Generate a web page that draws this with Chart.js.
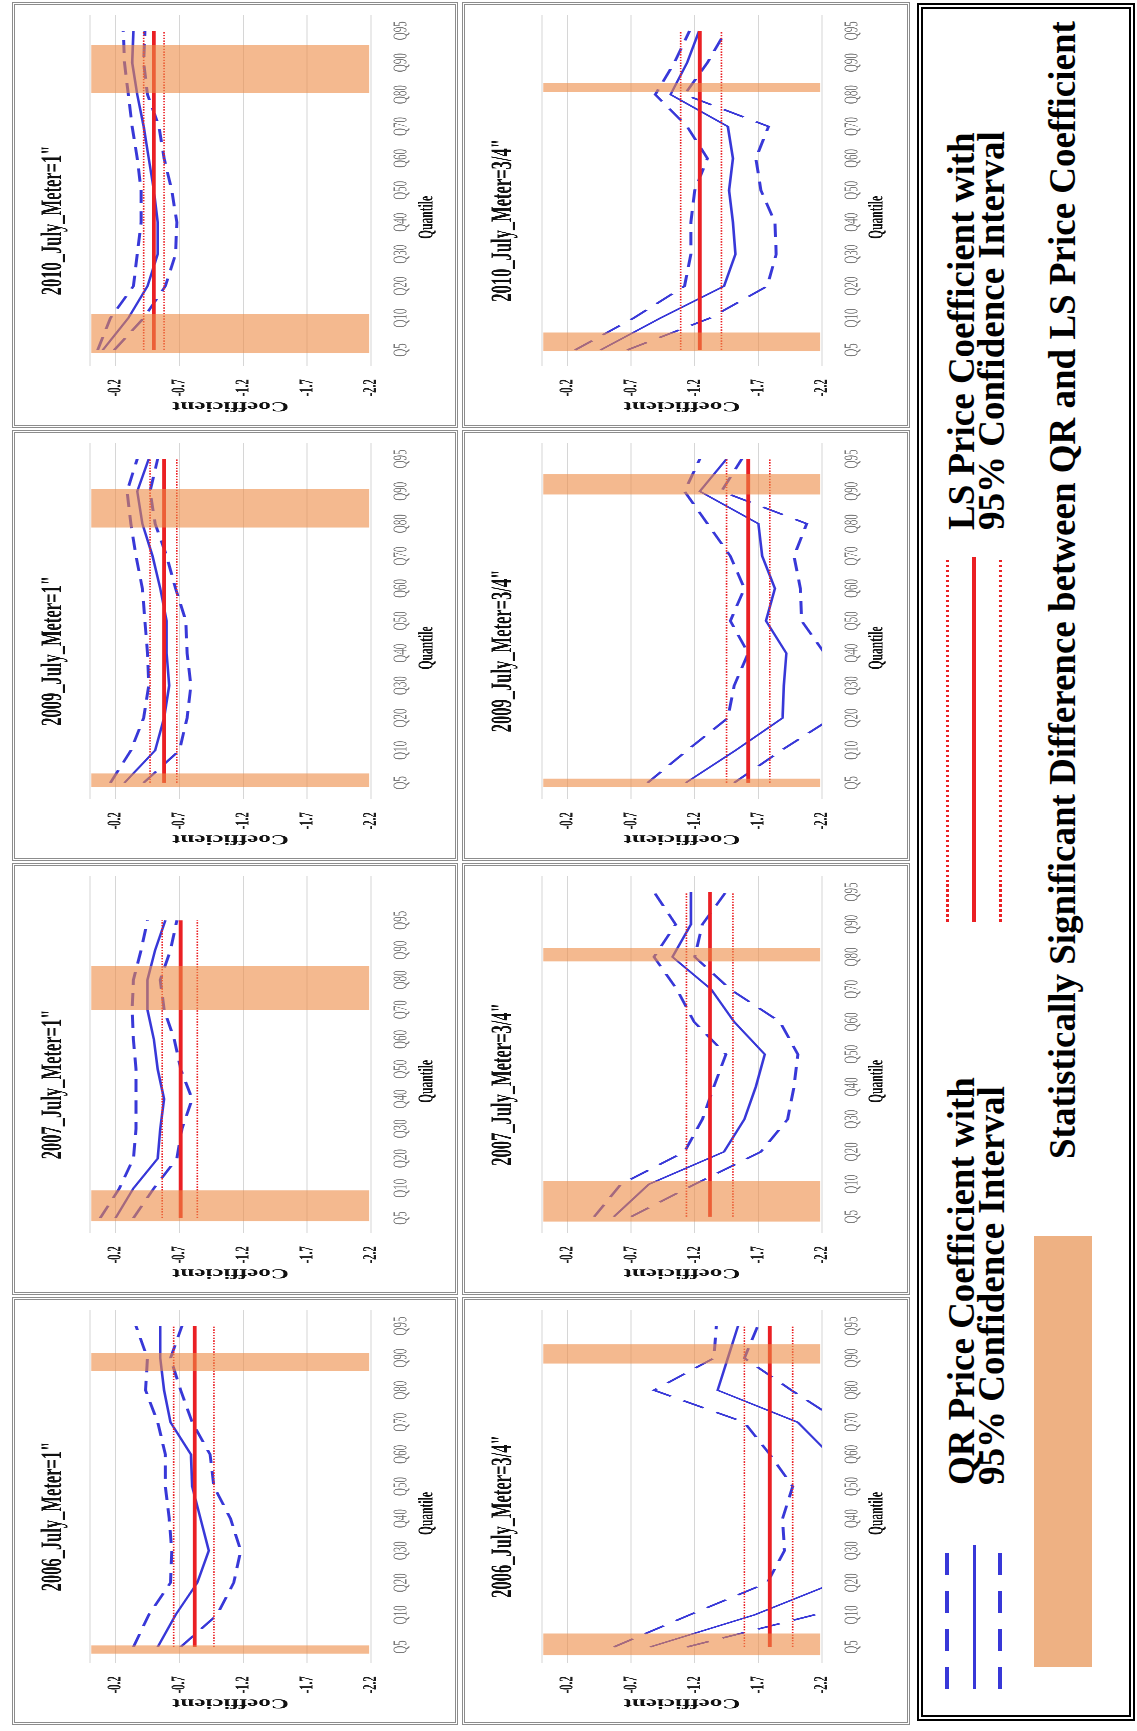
<!DOCTYPE html>
<html>
<head>
<meta charset="utf-8">
<title>QR vs LS price coefficients, July 2006-2010</title>
<script src="https://cdn.jsdelivr.net/npm/chart.js@4.4.1/dist/chart.umd.min.js"></script>
<style>
  html, body { margin: 0; padding: 0; background: #fff; }
  body { width: 1137px; height: 1731px; position: relative; overflow: hidden; }
  /* the figure is built landscape and turned a quarter turn, like the source page */
  #fig { position: absolute; left: 0; top: 0; width: 1731px; height: 1137px;
         transform-origin: 0 0; transform: translate(0, 1731px) rotate(-90deg); }
  .panel { position: absolute; box-sizing: border-box; border: 3px double #8c8c8c; background: #fff; }
  .panel .wrap { position: absolute; left: -3px; top: -3px; transform-origin: 0 0; }
  #legendFrame { position: absolute; left: 10px; top: 917px; width: 1718px; height: 218px;
                 box-sizing: border-box; border: 6px double #000; }
  .lg { position: absolute; }
  .lgText { position: absolute; font-family: "Liberation Serif", serif; font-weight: bold;
            font-size: 37px; color: #000; white-space: nowrap; }
</style>
</head>
<body>
<div id="fig">
  <div id="legendFrame"></div>
</div>

<script>
// ---------------------------- Chart data --------------------------------- //
const quantiles = ['Q5', 'Q10', 'Q20', 'Q30', 'Q40', 'Q50', 'Q60', 'Q70', 'Q80', 'Q90', 'Q95'];
const coefTicks = [-2.2, -1.7, -1.2, -0.7, -0.2, 0];
const bandSpan = [-0.01, -2.185];   // shaded bands run across the whole coefficient range

// QR coefficient, upper and lower 95% bounds; LS = [coef, upper, lower]; bands = quantile index ranges
// 2006, meter 1"
const qr2006m1 = [-0.53, -0.67, -0.84, -0.93, -0.865, -0.80, -0.79, -0.63, -0.58, -0.55, -0.55];
const hi2006m1 = [-0.34, -0.46, -0.63, -0.64, -0.62, -0.59, -0.59, -0.53, -0.435, -0.45, -0.36];
const lo2006m1 = [-0.71, -0.995, -1.125, -1.18, -1.10, -0.97, -0.94, -0.80, -0.71, -0.63, -0.72];
const ls2006m1 = [-0.82, -0.655, -0.97];
const bands2006m1 = [[-0.21, 0.05], [8.6, 9.17]];

// 2006, meter 3/4"
const qr2006m34 = [-0.85, -1.67, -2.30, -2.55, -2.60, -2.50, -2.26, -2.01, -1.38, -1.46, -1.54];
const hi2006m34 = [-0.565, -1.16, -1.77, -1.905, -1.89, -1.97, -1.79, -1.59, -0.88, -1.35, -1.37];
const lo2006m34 = [-1.14, -2.14, -2.50, -2.70, -2.70, -2.60, -2.50, -2.35, -1.96, -1.59, -1.695];
const ls2006m34 = [-1.79, -1.59, -1.97];
const bands2006m34 = [[-0.26, 0.42], [8.83, 9.43]];

// 2007, meter 1"
const qr2007m1 = [-0.20, -0.34, -0.53, -0.55, -0.58, -0.53, -0.50, -0.45, -0.45, -0.51, -0.59];
const hi2007m1 = [-0.08, -0.23, -0.34, -0.36, -0.36, -0.36, -0.34, -0.33, -0.34, -0.40, -0.45];
const lo2007m1 = [-0.34, -0.50, -0.68, -0.72, -0.80, -0.71, -0.66, -0.58, -0.55, -0.63, -0.68];
const ls2007m1 = [-0.71, -0.565, -0.84];
const bands2007m1 = [[-0.11, 0.93], [7.0, 8.47]];

// 2007, meter 3/4"
const qr2007m34 = [-0.565, -0.84, -1.43, -1.59, -1.68, -1.75, -1.51, -1.33, -1.025, -1.17, -1.17];
const hi2007m34 = [-0.41, -0.62, -1.12, -1.26, -1.35, -1.445, -1.195, -1.06, -0.88, -1.05, -0.88];
const lo2007m34 = [-0.70, -1.20, -1.72, -1.93, -1.98, -2.01, -1.87, -1.48, -1.20, -1.26, -1.445];
const ls2007m34 = [-1.32, -1.135, -1.50];
const bands2007m34 = [[-0.15, 1.09], [7.86, 8.27]];

// 2009, meter 1"
const qr2009m1 = [-0.27, -0.51, -0.58, -0.62, -0.60, -0.60, -0.55, -0.49, -0.41, -0.37, -0.46];
const hi2009m1 = [-0.16, -0.32, -0.42, -0.46, -0.45, -0.43, -0.41, -0.36, -0.32, -0.29, -0.37];
const lo2009m1 = [-0.42, -0.70, -0.76, -0.79, -0.76, -0.75, -0.67, -0.60, -0.51, -0.47, -0.53];
const ls2009m1 = [-0.58, -0.47, -0.68];
const bands2009m1 = [[-0.14, 0.29], [7.88, 9.08]];

// 2009, meter 3/4"
const qr2009m34 = [-1.13, -1.52, -1.89, -1.90, -1.92, -1.76, -1.83, -1.73, -1.70, -1.24, -1.45];
const hi2009m34 = [-0.83, -1.14, -1.46, -1.51, -1.62, -1.48, -1.59, -1.48, -1.30, -1.12, -1.24];
const lo2009m34 = [-1.51, -1.88, -2.28, -2.38, -2.22, -2.04, -2.03, -1.98, -2.08, -1.41, -1.57];
const ls2009m34 = [-1.62, -1.45, -1.79];
const bands2009m34 = [[-0.14, 0.13], [8.9, 9.53]];

// 2010, meter 1"
const qr2010m1 = [-0.10, -0.30, -0.45, -0.53, -0.53, -0.50, -0.46, -0.42, -0.37, -0.33, -0.34];
const hi2010m1 = [-0.06, -0.16, -0.34, -0.37, -0.40, -0.40, -0.37, -0.33, -0.30, -0.27, -0.26];
const lo2010m1 = [-0.19, -0.42, -0.59, -0.67, -0.68, -0.64, -0.58, -0.54, -0.45, -0.42, -0.43];
const ls2010m1 = [-0.50, -0.42, -0.58];
const bands2010m1 = [[-0.10, 1.12], [8.05, 9.55]];

// 2010, meter 3/4"
const qr2010m34 = [-0.46, -0.93, -1.43, -1.52, -1.50, -1.47, -1.50, -1.46, -1.01, -1.14, -1.235];
const hi2010m34 = [-0.26, -0.72, -1.12, -1.17, -1.17, -1.20, -1.30, -1.14, -0.89, -1.04, -1.16];
const lo2010m34 = [-0.67, -1.32, -1.77, -1.84, -1.83, -1.72, -1.68, -1.78, -1.12, -1.30, -1.445];
const ls2010m34 = [-1.24, -1.09, -1.41];
const bands2010m34 = [[-0.04, 0.55], [8.08, 8.36]];

// ---------------------------- Look & layout ------------------------------ //
const SQUISH = 0.55;          // source charts are squeezed along the quantile axis
const BLUE = '#3838d8';
const RED = '#ea2024';
const BAND = 'rgba(237, 138, 68, 0.6)';
const FONT = '"Liberation Serif", "Times New Roman", serif';

// landscape position of each panel (before the quarter turn)
const rowY = { m1: { top: 12, h: 446, plotTop: 78, plotBottom: 359 },
               m34: { top: 462, h: 448, plotTop: 80, plotBottom: 360 } };
const colX = { 2006: { left: 6, w: 428 }, 2007: { left: 436, w: 432 },
               2009: { left: 870, w: 431 }, 2010: { left: 1303, w: 426 } };

const panels = [
  { year: 2006, meter: 'm1',  title: '2006_July_Meter=1"',   qr: qr2006m1,  hi: hi2006m1,  lo: lo2006m1,  ls: ls2006m1,  bands: bands2006m1 },
  { year: 2006, meter: 'm34', title: '2006_July_Meter=3/4"', qr: qr2006m34, hi: hi2006m34, lo: lo2006m34, ls: ls2006m34, bands: bands2006m34 },
  { year: 2007, meter: 'm1',  title: '2007_July_Meter=1"',   qr: qr2007m1,  hi: hi2007m1,  lo: lo2007m1,  ls: ls2007m1,  bands: bands2007m1, slots: 12 },
  { year: 2007, meter: 'm34', title: '2007_July_Meter=3/4"', qr: qr2007m34, hi: hi2007m34, lo: lo2007m34, ls: ls2007m34, bands: bands2007m34 },
  { year: 2009, meter: 'm1',  title: '2009_July_Meter=1"',   qr: qr2009m1,  hi: hi2009m1,  lo: lo2009m1,  ls: ls2009m1,  bands: bands2009m1 },
  { year: 2009, meter: 'm34', title: '2009_July_Meter=3/4"', qr: qr2009m34, hi: hi2009m34, lo: lo2009m34, ls: ls2009m34, bands: bands2009m34 },
  { year: 2010, meter: 'm1',  title: '2010_July_Meter=1"',   qr: qr2010m1,  hi: hi2010m1,  lo: lo2010m1,  ls: ls2010m1,  bands: bands2010m1 },
  { year: 2010, meter: 'm34', title: '2010_July_Meter=3/4"', qr: qr2010m34, hi: hi2010m34, lo: lo2010m34, ls: ls2010m34, bands: bands2010m34 }
];

// panel title + axis names (drawn by hand so they can sit where the source has them)
const panelText = {
  id: 'panelText',
  afterDraw(chart, args, opts) {
    const { ctx, chartArea, width } = chart;
    ctx.save();
    ctx.fillStyle = '#111';
    ctx.textAlign = 'center';
    ctx.textBaseline = 'middle';
    ctx.font = 'bold 30px ' + FONT;
    ctx.fillText(opts.title, width * 0.487, 41);
    ctx.font = 'bold 21px ' + FONT;
    ctx.fillText('Quantile', width * 0.494, 415);
    ctx.translate(22 / SQUISH, (chartArea.top + chartArea.bottom) / 2);
    ctx.rotate(-Math.PI / 2);
    ctx.font = 'bold 25px ' + FONT;
    ctx.fillText('Coefficient', 0, 0);
    ctx.restore();
  }
};

function toPoints(values) {
  return values.map((v, i) => ({ x: i, y: v }));
}

function flatLine(value) {
  return [{ x: 0, y: value }, { x: quantiles.length - 1, y: value }];
}

function makePanel(p) {
  const fig = document.getElementById('fig');
  const row = rowY[p.meter];
  const col = colX[p.year];

  const box = document.createElement('div');
  box.className = 'panel';
  box.style.left = col.left + 'px';
  box.style.top = row.top + 'px';
  box.style.width = col.w + 'px';
  box.style.height = row.h + 'px';

  const wrap = document.createElement('div');
  wrap.className = 'wrap';
  wrap.style.width = (col.w / SQUISH) + 'px';
  wrap.style.height = row.h + 'px';
  wrap.style.transform = 'scale(' + SQUISH + ', 1)';
  const canvas = document.createElement('canvas');
  wrap.appendChild(canvas);
  box.appendChild(wrap);
  fig.appendChild(box);

  const slots = p.slots || quantiles.length;

  const bandSets = p.bands.map(b => ({
    data: [{ x: b[0], y: bandSpan[0] }, { x: b[1], y: bandSpan[0] }],
    borderWidth: 0,
    pointRadius: 0,
    backgroundColor: BAND,
    fill: { value: bandSpan[1] },
    order: 0
  }));

  const lineSets = [
    { data: flatLine(p.ls[1]), borderColor: RED, borderWidth: 1.6, borderDash: [2.5, 2.5] },
    { data: flatLine(p.ls[2]), borderColor: RED, borderWidth: 1.6, borderDash: [2.5, 2.5] },
    { data: flatLine(p.ls[0]), borderColor: RED, borderWidth: 3.8 },
    { data: toPoints(p.hi), borderColor: BLUE, borderWidth: 3, borderDash: [24, 15] },
    { data: toPoints(p.lo), borderColor: BLUE, borderWidth: 3, borderDash: [24, 15] },
    { data: toPoints(p.qr), borderColor: BLUE, borderWidth: 2.6 }
  ].map(d => Object.assign({ pointRadius: 0, fill: false, tension: 0, order: 1 }, d));

  new Chart(canvas, {
    type: 'line',
    data: { datasets: lineSets.concat(bandSets) },
    options: {
      responsive: true,
      maintainAspectRatio: false,
      devicePixelRatio: 2,
      animation: false,
      events: [],
      layout: { padding: { top: row.plotTop, right: 13 / SQUISH, left: 0, bottom: 0 } },
      scales: {
        x: {
          type: 'linear',
          min: -0.5,
          max: slots - 0.5,
          afterBuildTicks: axis => { axis.ticks = quantiles.map((q, i) => ({ value: i })); },
          afterFit: axis => { axis.height = row.h - row.plotBottom; },
          ticks: {
            callback: v => quantiles[v],
            autoSkip: false,
            maxRotation: 0,
            padding: 10,
            color: '#7a7a7a',
            font: { family: FONT, size: 20 }
          },
          grid: { display: false },
          border: { display: false }
        },
        y: {
          min: -2.2,
          max: 0,
          afterBuildTicks: axis => { axis.ticks = coefTicks.map(v => ({ value: v })); },
          afterFit: axis => { axis.width = 62 / SQUISH; },
          ticks: {
            callback: v => (v === 0 ? '' : v.toFixed(1)),
            padding: 24,
            color: '#1e1e1e',
            font: { family: FONT, size: 20, weight: 'bold' }
          },
          grid: { color: '#d6d6d6', lineWidth: 1, drawTicks: false },
          border: { display: false }
        }
      },
      plugins: {
        legend: { display: false },
        tooltip: { enabled: false },
        panelText: { title: p.title }
      }
    },
    plugins: [panelText]
  });
}

// ---------------------------- Legend ------------------------------------- //
function legendLine(left, top, width, style) {
  const d = document.createElement('div');
  d.className = 'lg';
  d.style.left = left + 'px';
  d.style.top = top + 'px';
  d.style.width = width + 'px';
  Object.assign(d.style, style);
  document.getElementById('fig').appendChild(d);
}

function legendText(left, top, html, lineHeight) {
  const d = document.createElement('div');
  d.className = 'lgText';
  d.style.left = left + 'px';
  d.style.top = top + 'px';
  d.style.lineHeight = lineHeight + 'px';
  d.innerHTML = html;
  document.getElementById('fig').appendChild(d);
}

function buildLegend() {
  const blueDash = { height: '4px', background: 'repeating-linear-gradient(to right, ' + BLUE + ' 0 22px, transparent 22px 38px)' };
  const blueSolid = { height: '3px', background: BLUE };
  const redDot = { height: '3px', background: 'repeating-linear-gradient(to right, ' + RED + ' 0 2.5px, transparent 2.5px 5px)' };
  const redSolid = { height: '4px', background: RED };

  legendLine(42, 945, 144, blueDash);
  legendLine(42, 973, 144, blueSolid);
  legendLine(42, 998, 144, blueDash);
  legendText(246, 947, 'QR Price Coefficient with<br>95% Confidence Interval', 30);

  legendLine(809, 946, 365, redDot);
  legendLine(809, 972, 365, redSolid);
  legendLine(809, 999, 365, redDot);
  legendText(1201, 947, 'LS Price Coefficient with<br>95% Confidence Interval', 30);

  legendLine(64, 1034, 431, { height: '58px', background: '#eeb183' });
  legendText(572, 1045, 'Statistically Significant Difference between QR and LS Price Coefficient', 36);
}

// ---------------------------- Page load ---------------------------------- //
window.onload = function () {
  panels.forEach(makePanel);
  buildLegend();
};
</script>
</body>
</html>
